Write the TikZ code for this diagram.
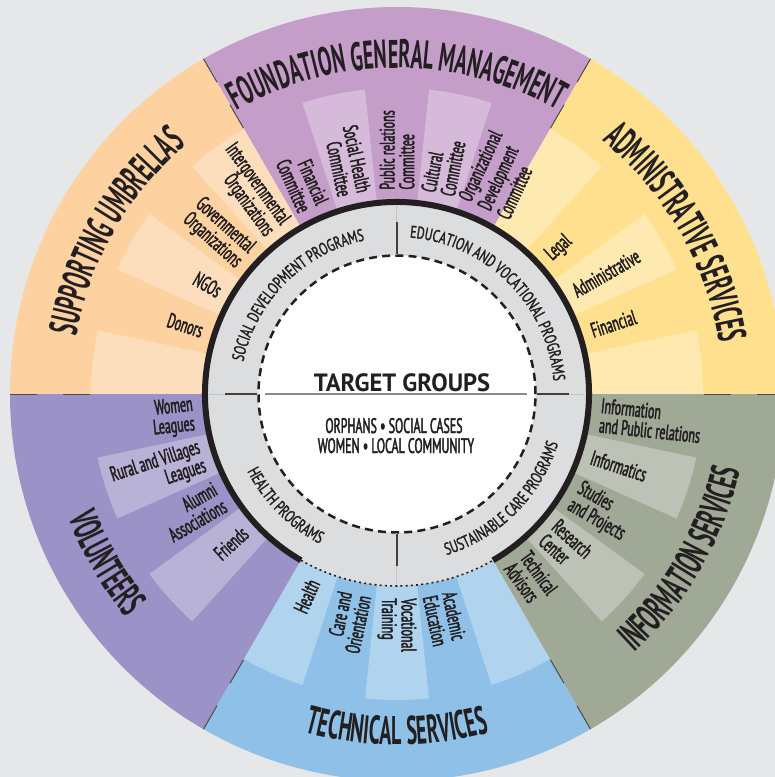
\documentclass[tikz,border=0pt]{standalone}
\usepackage{fontspec}
\usepackage{tikz}
\usetikzlibrary{positioning,decorations.text}

\newfontfamily\lblfont[FakeStretch=0.57, FakeBold=2]{PT Sans}
\newfontfamily\ringfont[FakeStretch=0.7, FakeBold=1.5]{PT Sans}
\newfontfamily\ttlfont[FakeStretch=0.5]{PT Sans}
\newfontfamily\tgfont[FakeStretch=0.98]{PT Sans}

\definecolor{bgGray}{HTML}{E6E7E8}
\definecolor{umbOrange}{HTML}{FDD1A0}
\definecolor{mgmtPurple}{HTML}{C49DC9}
\definecolor{admYellow}{HTML}{FEE08F}
\definecolor{infoGreen}{HTML}{A0A896}
\definecolor{techBlue}{HTML}{8FC1E8}
\definecolor{volViolet}{HTML}{9B92C7}
\definecolor{ringGray}{HTML}{DCDDDF}
\definecolor{ringLine}{HTML}{C4C5C7}
\definecolor{inkDark}{HTML}{231F20}

\newcommand\ttlstyle{\ttlfont\bfseries\fontsize{20}{20}\selectfont\color{inkDark}}
\newcommand\ringstyle{\ringfont\fontsize{8.5}{8.5}\selectfont\color{inkDark}}

\begin{document}
\begin{tikzpicture}[
    x=0.5pt, y=0.5pt,
    lbl/.style={font=\lblfont\fontsize{10.5}{9.8}\selectfont, text=inkDark, inner sep=0pt},
    lblout/.style={lbl, anchor=west, align=left},
    lblin/.style={lbl, anchor=east, align=right},
    stripe/.style={fill=white, fill opacity=0.3},
    seam/.style={draw=black!70, line width=0.5pt, dash pattern=on 13.5pt off 13pt},
    divlight/.style={draw=ringLine, line width=0.5pt},
    divdark/.style={draw=black!75, line width=0.75pt},
    arctitle/.style={decorate, decoration={text along path, text align=center, text={|\ttlstyle|#1}}},
    arcring/.style={decorate, decoration={text along path, text align=center, text={|\ringstyle|#1}}},
]

\clip (-397,-383) rectangle (378,394);
\fill[bgGray] (-397,-383) rectangle (378,394);

% outer sectors
\foreach \a/\col in {0/admYellow, 60/mgmtPurple, 120/umbOrange,
                     180/volViolet, 240/techBlue, 300/infoGreen}
  \fill[\col] (0,0) -- (\a:387) arc[start angle=\a, end angle=\a+60, radius=387] -- cycle;

% lighter stripes, every other 12 degrees
\foreach \k [evaluate=\k as \s using 12*\k, evaluate=\k as \e using 12*\k+12] in {0,2,...,28}
  \fill[stripe] (\s:192) arc[start angle=\s, end angle=\e, radius=192]
     -- (\e:306) arc[start angle=\e, end angle=\s, radius=306] -- cycle;

\foreach \a in {0,60,...,300}
  \draw[seam] (\a:387) -- (\a:306);

% items reading outwards
\foreach \a/\n/\t in {42/legal/{Legal}, 30/admin/{Administrative}, 18/finance/{Financial},
    78.5/culture/{Cultural\\Committee}, 90/pubrel/{Public relations\\Committee},
    -6/inforel/{Information\\and Public relations}, -18/informatics/{Informatics},
    -30/studies/{Studies\\and Projects}, -42/research/{Research\\Center},
    -54/advisors/{Technical\\Advisors},
    -78/academic/{Academic\\Education}, -90/vocational/{Vocational\\Training}}
  \node[lblout, rotate=\a] (\n) at (\a:204) {\t};
\node[lblout, rotate=65, font=\lblfont\fontsize{10.5}{7.6}\selectfont] (orgdev) at (65:204)
    {Organizational\\Development\\Committee};

% items reading inwards
\foreach \a/\n/\t in {102/socialhealth/{Social Health\\Committee}, 114/fincomm/{Financial\\Committee},
    126/intergov/{Intergovernmental\\Organizations}, 138/gov/{Governmental\\Organizations},
    150/ngos/{NGOs}, 162/donors/{Donors},
    186/women/{Women\\Leagues}, 198/rural/{Rural and Villages\\Leagues},
    210/alumni/{Alumni\\Associations}, 222/friends/{Friends},
    246/health/{Health}, 258/care/{Care and\\Orientation}}
  \node[lblin, rotate=\a+180] (\n) at (\a:204) {\t};

% sector titles
\path[arctitle=SUPPORTING UMBRELLAS] (180:326) arc[start angle=180, end angle=120, radius=326];
\path[arctitle=FOUNDATION GENERAL MANAGEMENT] (120:326) arc[start angle=120, end angle=60, radius=326];
\path[arctitle=ADMINISTRATIVE SERVICES] (60:326) arc[start angle=60, end angle=0, radius=326];
\path[arctitle=VOLUNTEERS] (180:351) arc[start angle=180, end angle=240, radius=351];
\path[arctitle=TECHNICAL SERVICES] (240:351) arc[start angle=240, end angle=300, radius=351];
\path[arctitle=INFORMATION SERVICES] (300:351) arc[start angle=300, end angle=360, radius=351];

% programs ring
\fill[ringGray] (0,0) circle[radius=192];
\fill[white] (0,0) circle[radius=138.5];
\draw[inkDark, line width=3pt] (-60:192) arc[start angle=-60, end angle=240, radius=192];
\draw[inkDark, line width=0.8pt, dash pattern=on 1pt off 1.6pt]
    (240:192) arc[start angle=240, end angle=300, radius=192];
\draw[inkDark, line width=1.25pt, dash pattern=on 4pt off 2.6pt] (0,0) circle[radius=138.5];
\foreach \a in {0,90,180,270} {
  \draw[divlight] (\a:139) -- (\a:189);
  \draw[divdark] (\a:140) -- (\a:172);
}

\path[arcring=SOCIAL DEVELOPMENT PROGRAMS] (180:157) arc[start angle=180, end angle=90, radius=157];
\path[arcring=EDUCATION AND VOCATIONAL PROGRAMS] (90:157) arc[start angle=90, end angle=0, radius=157];
\path[arcring=HEALTH PROGRAMS] (180:168.5) arc[start angle=180, end angle=270, radius=168.5];
\path[arcring=SUSTAINABLE CARE PROGRAMS] (270:168.5) arc[start angle=270, end angle=360, radius=168.5];

% target groups
\draw[black!45, line width=0.7pt] (-132,0) -- (130,0);
\node[font=\tgfont\bfseries\fontsize{12.5}{12.5}\selectfont, text=inkDark, inner sep=0pt, anchor=base]
    (groups) at (5,3) {TARGET GROUPS};
\node[lbl, font=\lblfont\fontsize{10.5}{10}\selectfont, anchor=base]
    (orphans) at (-3,-39) {ORPHANS • SOCIAL CASES};
\node[lbl, font=\lblfont\fontsize{10.5}{10}\selectfont, anchor=base]
    (women) at (-1,-59) {WOMEN • LOCAL COMMUNITY};

\end{tikzpicture}
\end{document}
